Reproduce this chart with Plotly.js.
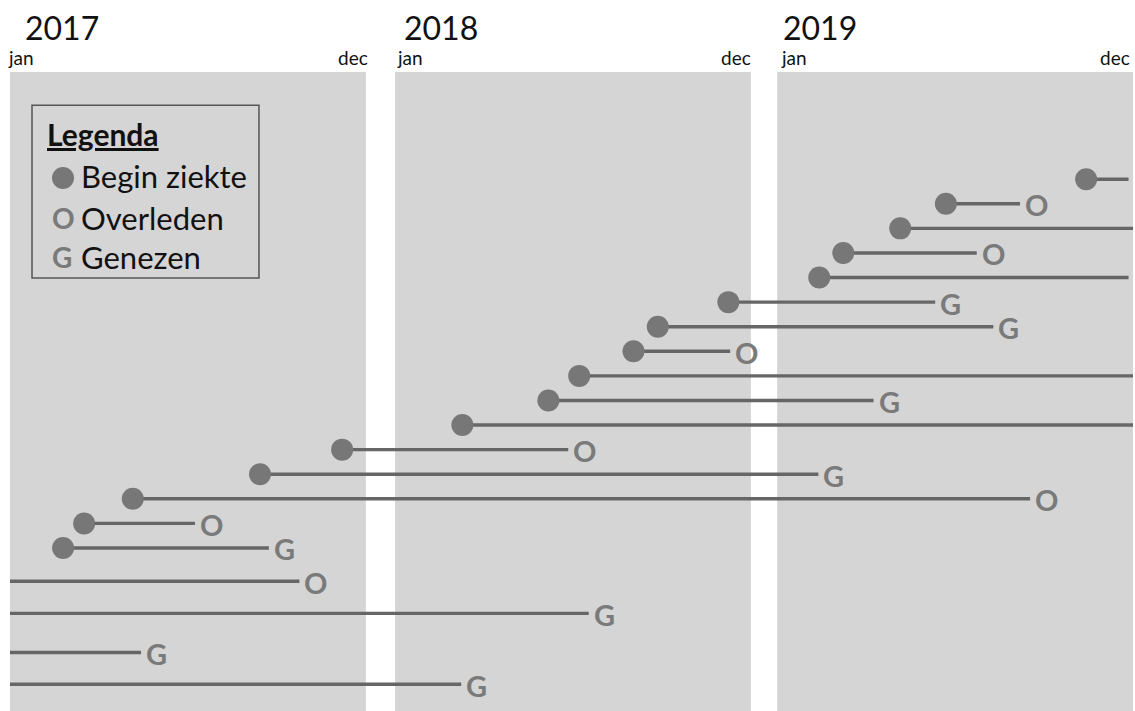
<!DOCTYPE html>
<html>
<head>
<meta charset="utf-8">
<script src="https://cdn.plot.ly/plotly-3.0.1.min.js"></script>
<style>html,body{margin:0;padding:0;background:#fff;}#chart{width:1135px;height:711px;}</style>
</head>
<body>
<div id="chart"></div>
<script>
// ---- data (months since 1 Jan 2017; null onset = ziekte begon vóór 2017) ----
var years = ['2017', '2018', '2019'];
var monthLabels = ['jan', 'dec'];
var rowPos = [1, 2, 3, 4, 5, 6, 7, 8, 9, 10, 11, 12, 13, 14, 15, 16, 17.35, 18.66, 20.25, 21.54];
var onsetMonth = [34.42, 29.69, 28.15, 26.23, 25.42, 23.24, 20.86, 20.04, 18.21, 17.17, 14.27, 11.20, 8.43, 4.14, 2.50, 1.79, null, null, null, null];
var endMonth = [35.85, 32.19, 36, 30.73, 35.85, 29.33, 31.29, 23.30, 36, 27.25, 36, 17.84, 25.39, 32.53, 6.24, 8.73, 9.76, 18.53, 4.42, 14.23];
var outcome = ['', 'O', '', 'O', '', 'G', 'G', 'O', '', 'G', '', 'O', 'G', 'O', 'O', 'G', 'O', 'G', 'G', 'G'];
var legendTitle = 'Legenda';
var legendItems = ['Begin ziekte', 'Overleden', 'Genezen'];
var legendSymbols = ['', 'O', 'G'];

// ---- display scale: each year is a 12-month panel, separated by a gap ----
var panelOffset = [0, 0.985, 1.87];
function pos(m) { var k = Math.min(Math.floor(m / 12), 2); return m + panelOffset[k]; }
var xMax = pos(36);

var PANEL = '#d5d5d5', LINE = '#666666', DOT = '#777777', LETTER = '#7a7a7a', INK = '#111111';

var lx = [], ly = [];
for (var i = 0; i < rowPos.length; i++) {
  var s = onsetMonth[i] === null ? 0 : onsetMonth[i];
  lx.push(pos(s), pos(endMonth[i]), null);
  ly.push(rowPos[i], rowPos[i], null);
}
var dx = [], dy = [];
for (var i = 0; i < rowPos.length; i++) {
  if (onsetMonth[i] !== null) { dx.push(pos(onsetMonth[i])); dy.push(rowPos[i]); }
}
var traces = [
  {type: 'scatter', mode: 'lines', x: lx, y: ly, line: {color: LINE, width: 3.4}, hoverinfo: 'skip', showlegend: false},
  {type: 'scatter', mode: 'markers', x: dx, y: dy, marker: {color: DOT, size: 22, line: {width: 0}}, hoverinfo: 'skip', showlegend: false}
];

var shapes = [], annotations = [];
for (var k = 0; k < years.length; k++) {
  var x0 = pos(12 * k);
  var x1 = Math.min(x0 + 12, xMax - 1e-6);
  shapes.push({type: 'rect', xref: 'x', yref: 'paper', x0: x0, x1: x0 + 12, y0: 0, y1: 1, fillcolor: PANEL, line: {width: 0}, layer: 'below'});
  annotations.push({xref: 'x', yref: 'paper', x: x0, y: 1.0695, xanchor: 'left', yanchor: 'middle', xshift: [13, 7, 4][k], text: years[k], showarrow: false, font: {family: 'Lato', size: 32, color: INK}});
  annotations.push({xref: 'x', yref: 'paper', x: x0, y: 1.0232, xanchor: 'left', yanchor: 'middle', xshift: [-4, 0, 2][k], text: monthLabels[0], showarrow: false, font: {family: 'Lato', size: 19, color: INK}});
  annotations.push({xref: 'x', yref: 'paper', x: x1, y: 1.0232, xanchor: 'right', yanchor: 'middle', xshift: [4, 2, -1][k], text: monthLabels[1], showarrow: false, font: {family: 'Lato', size: 19, color: INK}});
}
for (var i = 0; i < rowPos.length; i++) {
  if (!outcome[i]) continue;
  annotations.push({xref: 'x', yref: 'y', x: pos(endMonth[i]), y: rowPos[i], xanchor: 'left', yanchor: 'middle', xshift: 3, yshift: -1, text: '<b>' + outcome[i] + '</b>', showarrow: false, font: {family: 'Lato', size: 29, color: LETTER}});
}
// legend box
shapes.push({type: 'rect', xref: 'paper', yref: 'paper', x0: 0.0196, x1: 0.2217, y0: 0.6776, y1: 0.948, line: {color: '#555555', width: 1.5}, fillcolor: 'rgba(0,0,0,0)'});
shapes.push({type: 'circle', xref: 'paper', yref: 'paper', x0: 0.0374, x1: 0.0570, y0: 0.8169, y1: 0.8513, fillcolor: DOT, line: {width: 0}});
annotations.push({xref: 'paper', yref: 'paper', x: 0.0309, y: 0.903, xanchor: 'left', yanchor: 'middle', text: '<b><u>' + legendTitle + '</u></b>', showarrow: false, font: {family: 'Lato', size: 30, color: INK}});
var legY = [0.838, 0.7723, 0.711];
for (var j = 0; j < legendItems.length; j++) {
  annotations.push({xref: 'paper', yref: 'paper', x: 0.0617, y: legY[j], xanchor: 'left', yanchor: 'middle', text: legendItems[j], showarrow: false, font: {family: 'Lato', size: 31, color: INK}});
  if (legendSymbols[j]) annotations.push({xref: 'paper', yref: 'paper', x: 0.0353, y: legY[j], xanchor: 'left', yanchor: 'middle', text: '<b>' + legendSymbols[j] + '</b>', showarrow: false, font: {family: 'Lato', size: 28, color: LETTER}});
}

var layout = {
  width: 1135, height: 711,
  margin: {l: 10, r: 2, t: 72, b: 0, pad: 0},
  paper_bgcolor: '#ffffff', plot_bgcolor: '#ffffff',
  xaxis: {range: [0, xMax], visible: false, fixedrange: true},
  yaxis: {range: [22.63, -3.36], visible: false, fixedrange: true},
  showlegend: false,
  shapes: shapes, annotations: annotations
};
Plotly.newPlot('chart', traces, layout, {displayModeBar: false, staticPlot: true});
</script>
</body>
</html>
